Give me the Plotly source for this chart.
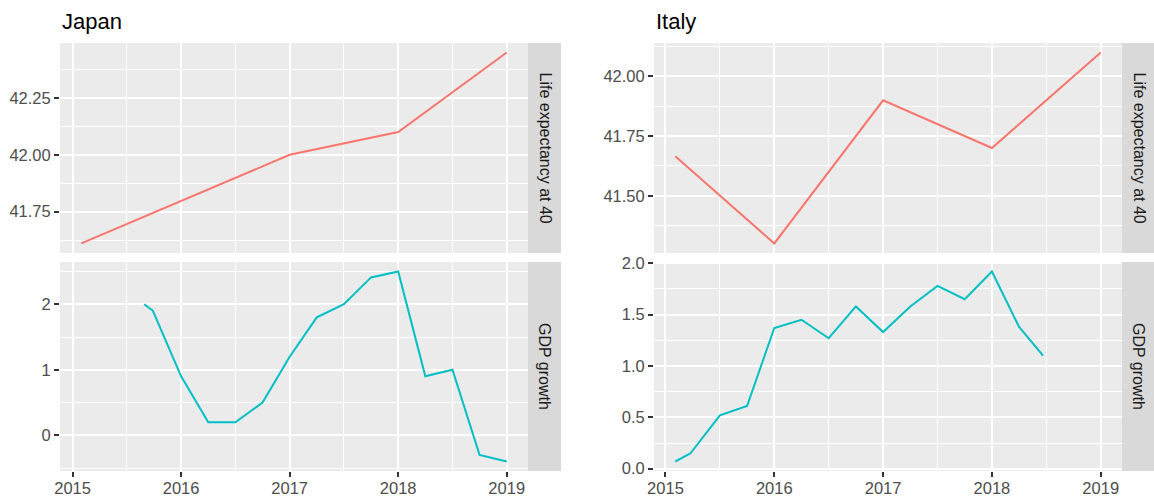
import plotly.graph_objects as go

# ---- data -----------------------------------------------------------------
countries = ["Japan", "Italy"]
measures = ["Life expectancy at 40", "GDP growth"]

japan_life_year = [2015.08, 2017.0, 2018.0, 2019.0]
japan_life_value = [41.61, 42.00, 42.10, 42.45]

japan_gdp_year = [2015.66, 2015.74, 2016.0, 2016.25, 2016.5, 2016.75, 2017.0, 2017.25,
                  2017.5, 2017.75, 2018.0, 2018.25, 2018.5, 2018.75, 2019.0]
japan_gdp_value = [2.0, 1.9, 0.9, 0.2, 0.2, 0.5, 1.2, 1.8,
                   2.0, 2.41, 2.5, 0.9, 1.0, -0.3, -0.4]

italy_life_year = [2015.09, 2016.0, 2017.0, 2018.0, 2019.0]
italy_life_value = [41.665, 41.30, 41.90, 41.70, 42.10]

italy_gdp_year = [2015.09, 2015.23, 2015.5, 2015.75, 2016.0, 2016.25, 2016.5, 2016.75,
                  2017.0, 2017.25, 2017.5, 2017.75, 2018.0, 2018.25, 2018.47]
italy_gdp_value = [0.07, 0.15, 0.52, 0.61, 1.37, 1.45, 1.27, 1.58,
                   1.33, 1.58, 1.78, 1.65, 1.92, 1.38, 1.10]

year_ticks = [2015, 2016, 2017, 2018, 2019]

# ---- styling --------------------------------------------------------------
W, H = 1154, 498
FONT = "Liberation Sans, Arial, sans-serif"
RED, TEAL = "#F8766D", "#00BFC4"
PANEL_BG, STRIP_BG = "#EBEBEB", "#D9D9D9"


def px_x(p):
    return p / W


def px_y(p):
    return 1 - p / H


def padded(values, frac=0.05):
    lo, hi = min(values), max(values)
    pad = (hi - lo) * frac
    return [lo - pad, hi + pad]


fig = go.Figure()

# panel pixel boxes: (left, right) per country, (top, bottom) per row
cols = {"Japan": (60, 528), "Italy": (654, 1122)}
rows = {"top": (43, 253), "bottom": (262, 471)}

series = {
    ("Japan", "top"): (japan_life_year, japan_life_value, RED),
    ("Japan", "bottom"): (japan_gdp_year, japan_gdp_value, TEAL),
    ("Italy", "top"): (italy_life_year, italy_life_value, RED),
    ("Italy", "bottom"): (italy_gdp_year, italy_gdp_value, TEAL),
}

y_fmt = {
    ("Japan", "top"): (".2f", 0.25, 0.125),
    ("Japan", "bottom"): ("d", 1, 0.5),
    ("Italy", "top"): (".2f", 0.25, 0.125),
    ("Italy", "bottom"): (".1f", 0.5, 0.25),
}

axis_common = dict(
    showline=False, zeroline=False, gridcolor="white", gridwidth=1.8,
    automargin=False,
    tickfont=dict(family=FONT, size=16.5, color="#4D4D4D"),
    ticklen=5, tickwidth=2, tickcolor="#333333",
)

idx = 0
for country in countries:
    xl, xr = cols[country]
    x_all = []
    for r in ("top", "bottom"):
        x_all += series[(country, r)][0]
    xrange = padded(x_all)
    for r in ("top", "bottom"):
        idx += 1
        xs, ys, color = series[(country, r)]
        xa = "x" if idx == 1 else f"x{idx}"
        ya = "y" if idx == 1 else f"y{idx}"
        fig.add_trace(go.Scatter(x=xs, y=ys, mode="lines", xaxis=xa, yaxis=ya,
                                 line=dict(color=color, width=2), showlegend=False,
                                 hoverinfo="skip"))
        yt, yb = rows[r]
        fmt, dt, mdt = y_fmt[(country, r)]
        bottom = r == "bottom"
        xkey = "xaxis" if idx == 1 else f"xaxis{idx}"
        ykey = "yaxis" if idx == 1 else f"yaxis{idx}"
        fig.update_layout(**{
            xkey: dict(axis_common, domain=[px_x(xl), px_x(xr)], anchor=ya,
                       range=xrange, tickvals=year_ticks,
                       ticktext=[str(t) for t in year_ticks],
                       ticks="outside" if bottom else "", showticklabels=bottom,
                       ticklabelstandoff=-3,
                       minor=dict(showgrid=True, gridcolor="white", gridwidth=0.9,
                                  dtick=0.5, tick0=2014.5)),
            ykey: dict(axis_common, domain=[px_y(yb), px_y(yt)], anchor=xa,
                       range=padded(ys), tickformat=fmt, dtick=dt, tick0=0,
                       ticks="outside",
                       minor=dict(showgrid=True, gridcolor="white", gridwidth=0.9,
                                  dtick=mdt, tick0=0)),
        })
        # panel background
        fig.add_shape(type="rect", xref="paper", yref="paper", layer="below",
                      x0=px_x(xl), x1=px_x(xr), y0=px_y(yb), y1=px_y(yt),
                      fillcolor=PANEL_BG, line=dict(width=0))
        # facet strip on the right
        fig.add_shape(type="rect", xref="paper", yref="paper",
                      x0=px_x(xr), x1=px_x(xr + 33), y0=px_y(yb), y1=px_y(yt),
                      fillcolor=STRIP_BG, line=dict(width=0))
        fig.add_annotation(xref="paper", yref="paper", x=px_x(xr + 16.5),
                           y=px_y((yt + yb) / 2), xanchor="center", yanchor="middle",
                           text=measures[0 if r == "top" else 1],
                           textangle=90, showarrow=False,
                           font=dict(family=FONT, size=16, color="#1A1A1A"))
    # country title
    fig.add_annotation(xref="paper", yref="paper", x=px_x(xl), y=px_y(22),
                       xanchor="left", yanchor="middle", text=country, showarrow=False,
                       font=dict(family=FONT, size=22, color="black"))

fig.update_layout(width=W, height=H, margin=dict(l=0, r=0, t=0, b=0),
                  paper_bgcolor="white", plot_bgcolor=PANEL_BG)

fig.write_html("out.html")
